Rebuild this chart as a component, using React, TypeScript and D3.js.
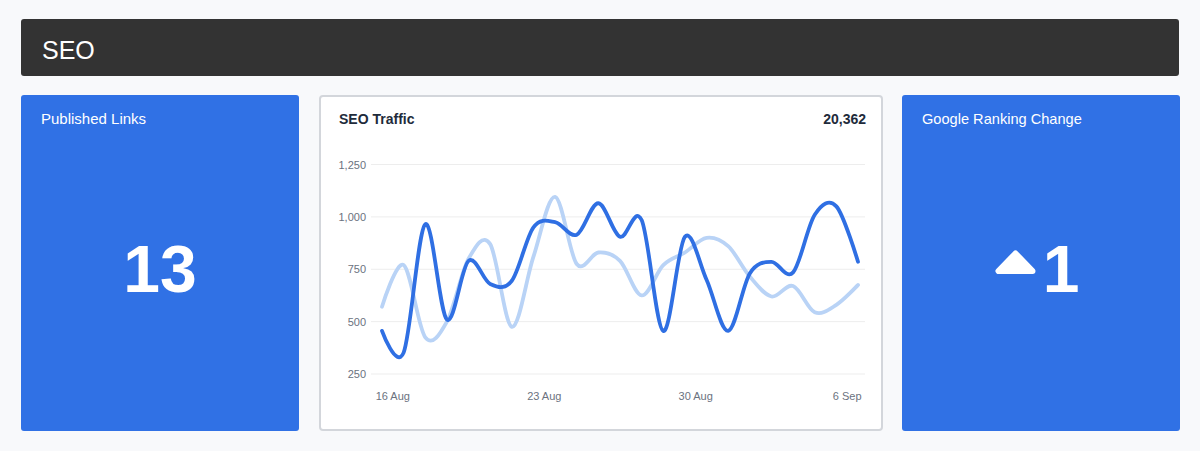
import * as d3 from "d3";

// daily SEO sessions, 15 Aug - 6 Sep
const dates = [
  "2023-08-15", "2023-08-16", "2023-08-17", "2023-08-18", "2023-08-19",
  "2023-08-20", "2023-08-21", "2023-08-22", "2023-08-23", "2023-08-24",
  "2023-08-25", "2023-08-26", "2023-08-27", "2023-08-28", "2023-08-29",
  "2023-08-30", "2023-08-31", "2023-09-01", "2023-09-02", "2023-09-03",
  "2023-09-04", "2023-09-05", "2023-09-06",
];
const currentTraffic = [
  456, 352, 965, 510, 790, 680, 695, 950, 975, 915, 1065, 905,
  985, 455, 905, 700, 456, 730, 785, 735, 1010, 1050, 786,
];
const previousTraffic = [
  571, 770, 425, 500, 800, 870, 475, 810, 1095, 775, 830, 790,
  625, 770, 830, 900, 860, 715, 620, 670, 545, 580, 675,
];
const yTicks = [250, 500, 750, 1000, 1250];
const xTickDates = ["2023-08-16", "2023-08-23", "2023-08-30", "2023-09-06"];

const totalTraffic = "20,362";
const publishedLinks = "13";
const rankingChange = "1";

const FONT = "'Liberation Sans', Arial, Helvetica, sans-serif";
const BLUE = "#3071e5";

export default function App() {
  const width = 1200;
  const height = 451;

  // points sit at noon, ticks at midnight
  const parse = (s: string) => new Date(s + "T12:00:00Z");
  const x = d3
    .scaleUtc()
    .domain([parse(dates[0]), parse(dates[dates.length - 1])])
    .range([382, 858]);
  const y = d3.scaleLinear().domain([250, 1250]).range([374, 164.5]);

  const line = d3
    .line<number>()
    .x((_, i) => x(parse(dates[i])))
    .y((v) => y(v))
    .curve(d3.curveCardinal.tension(0));

  const fmtDate = d3.utcFormat("%-d %b");
  const fmtNum = d3.format(",");

  return (
    <svg
      width={width}
      height={height}
      style={{ position: "absolute", left: 0, top: 0, fontFamily: FONT }}
    >
      <rect width={width} height={height} fill="#f8f9fb" />

      {/* header */}
      <rect x={21} y={19} width={1158} height={57} rx={3} fill="#333333" />
      <text x={42} y={59} fill="#fff" fontSize={25}>
        SEO
      </text>

      {/* published links */}
      <rect x={21} y={95} width={278} height={336} rx={3} fill={BLUE} />
      <text x={41} y={124} fill="#fff" fontSize={15}>
        Published Links
      </text>
      <text x={160} y={292} fill="#fff" fontSize={66} fontWeight="bold" textAnchor="middle">
        {publishedLinks}
      </text>

      {/* traffic chart card */}
      <rect x={320} y={96} width={562} height={334} rx={3} fill="#fff" stroke="#d3d6db" strokeWidth={2} />
      <text x={339} y={124} fill="#1e2b3b" fontSize={14} fontWeight="bold">
        SEO Traffic
      </text>
      <text x={866} y={124} fill="#1e2b3b" fontSize={14} fontWeight="bold" textAnchor="end">
        {totalTraffic}
      </text>

      <g>
        {yTicks.map((t) => (
          <g key={t}>
            <line x1={371} x2={865} y1={y(t)} y2={y(t)} stroke="#ededed" strokeWidth={1} />
            <text x={366} y={y(t) + 4} fontSize={11} fill="#6b7280" textAnchor="end">
              {fmtNum(t)}
            </text>
          </g>
        ))}
        {xTickDates.map((d) => {
          const dt = new Date(d + "T00:00:00Z");
          return (
            <text key={d} x={x(dt)} y={400} fontSize={11} fill="#6b7280" textAnchor="middle">
              {fmtDate(dt)}
            </text>
          );
        })}
      </g>

      <path d={line(previousTraffic) ?? ""} fill="none" stroke="#b9d3f6" strokeWidth={3.8} strokeLinecap="round" />
      <path d={line(currentTraffic) ?? ""} fill="none" stroke="#2f6fe3" strokeWidth={3.8} strokeLinecap="round" />

      {/* ranking change */}
      <rect x={902} y={95} width={278} height={336} rx={3} fill={BLUE} />
      <text x={922} y={124} fill="#fff" fontSize={14.6}>
        Google Ranking Change
      </text>
      <path
        d="M998.5,271 L1032.5,271 L1015.5,253.5 Z"
        fill="#fff"
        stroke="#fff"
        strokeWidth={6}
        strokeLinejoin="round"
      />
      <text x={1061} y={292} fill="#fff" fontSize={66} fontWeight="bold" textAnchor="middle">
        {rankingChange}
      </text>
    </svg>
  );
}
